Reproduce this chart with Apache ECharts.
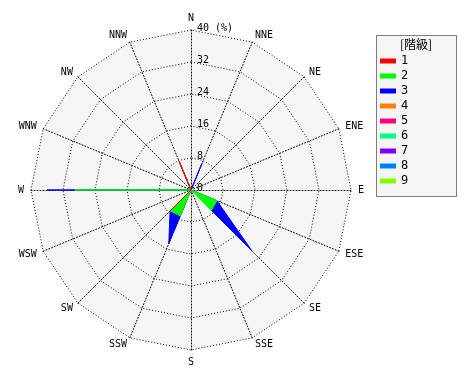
<!DOCTYPE html>
<html><head><meta charset="utf-8">
<script src="https://cdn.jsdelivr.net/npm/echarts@6/dist/echarts.min.js"></script>
<style>html,body{margin:0;padding:0;background:#fff}#c{width:470px;height:380px}</style>
</head><body><div id="c"></div>
<script>
// Directions, clockwise from north
const directions = ['N','NNE','NE','ENE','E','ESE','SE','SSE','S','SSW','SW','WSW','W','WNW','NW','NNW'];
const levelNames = ['1','2','3','4','5','6','7','8','9'];
const levelColors = ['#ff0000','#00ff00','#0000ff','#ff8000','#ff0080','#00ff80','#8000ff','#0080ff','#80ff00'];
//              N  NNE NE ENE E ESE  SE  SSE S SSW  SW  WSW W  WNW NW NNW
const level1 = [0, 0,  0, 0,  0, 0,  0,   0, 0, 0,   7.4, 0, 0,  0, 0, 7.6];
const level2 = [0, 0,  0, 0,  0, 7,  7.2, 0, 0, 7,   0,   0, 29, 0, 0, 0];
const level3 = [0, 7.2,0, 0,  0, 0,  14.4,0, 0, 7.5, 0,   0, 7,  0, 0, 0];
const level4 = [0,0,0,0,0,0,0,0,0,0,0,0,0,0,0,0];
const level5 = [0,0,0,0,0,0,0,0,0,0,0,0,0,0,0,0];
const level6 = [0,0,0,0,0,0,0,0,0,0,0,0,0,0,0,0];
const level7 = [0,0,0,0,0,0,0,0,0,0,0,0,0,0,0,0];
const level8 = [0,0,0,0,0,0,0,0,0,0,0,0,0,0,0,0];
const level9 = [0,0,0,0,0,0,0,0,0,0,0,0,0,0,0,0];
const radialMax = 40;
const radialStep = 8;
const unitLabel = '(%)';
const legendTitle = '[階級]';

const levels = [level1,level2,level3,level4,level5,level6,level7,level8,level9];
// radar indicators run counter-clockwise; reorder so they appear clockwise
const order = directions.map((d,i)=> (16 - i) % 16);
const cum = [];
let run = directions.map(()=>0);
levels.forEach(lv => { run = run.map((v,i)=> v + lv[i]); cum.push(run.slice()); });

const mono = 'DejaVu Sans Mono';
const chart = echarts.init(document.getElementById('c'), null, {renderer:'canvas'});
chart.setOption({
  backgroundColor:'#ffffff',
  animation:false,
  radar:{
    center:[191,190], radius:160, startAngle:90, shape:'polygon', splitNumber:5,
    indicator: order.map(i=>({name:directions[i], min:0, max:radialMax})),
    axisName:{color:'#000', fontFamily:mono, fontSize:10},
    nameGap:7,
    splitLine:{lineStyle:{color:'#000', type:[1,2], width:1}},
    splitArea:{show:true, areaStyle:{color:['#f5f5f5']}},
    axisLine:{lineStyle:{color:'#000', type:[1,2], width:1}},
    axisTick:{show:false}, axisLabel:{show:false}
  },
  polar:{center:[191,190], radius:160},
  angleAxis:{type:'value', min:0, max:360, startAngle:90, show:false},
  radiusAxis:{type:'value', min:0, max:radialMax, interval:radialStep, z:20,
    axisLine:{show:false}, axisTick:{show:false}, splitLine:{show:false},
    axisLabel:{color:'#000', fontFamily:mono, fontSize:10, align:'left', verticalAlign:'bottom', lineHeight:4, margin:-6,
      formatter: v => v === radialMax ? v + ' ' + unitLabel : String(v)}
  },
  legend:{
    orient:'vertical', left:380, top:55, padding:0, itemWidth:16, itemHeight:5, itemGap:3,
    icon:'rect', selectedMode:false, data:levelNames,
    textStyle:{color:'#000', fontFamily:mono, fontSize:12}
  },
  graphic:[
    {type:'rect', left:376, top:35, z:-1, shape:{width:80, height:161},
      style:{fill:'#f5f5f5', stroke:'#000', lineWidth:1, lineDash:[1,1]}},
    {type:'text', x:416, y:44, z:5,
      style:{text:legendTitle, fill:'#000', font:'12px "Noto Sans CJK JP"', textAlign:'center', textVerticalAlign:'middle'}}
  ],
  series: levels.map((lv,k)=>({
    type:'radar', name:levelNames[k], z:2 + (levels.length - k),
    symbol:'none',
    itemStyle:{color:levelColors[k]},
    lineStyle:{color:levelColors[k], width:1},
    areaStyle:{color:levelColors[k], opacity:1},
    data: lv.some(v=>v>0) ? [{name:levelNames[k], value: order.map(i=>cum[k][i])}] : []
  }))
});
</script></body></html>
